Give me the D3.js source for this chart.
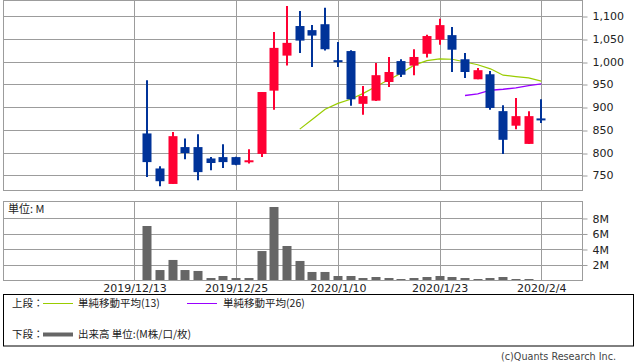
<!DOCTYPE html>
<html><head><meta charset="utf-8">
<script src="https://cdn.jsdelivr.net/npm/d3@7"></script>
<style>
html,body{margin:0;padding:0;background:#fff;}
svg{display:block;font-family:"DejaVu Sans","Noto Sans CJK JP",sans-serif;}
</style></head>
<body><svg id="c" width="638" height="362"></svg>
<script>
// ---- data ----
const dates = ["2019/12/16","2019/12/17","2019/12/18","2019/12/19","2019/12/20","2019/12/23","2019/12/24","2019/12/25","2019/12/26","2019/12/27","2019/12/30",
"2020/1/6","2020/1/7","2020/1/8","2020/1/9","2020/1/10","2020/1/14","2020/1/15","2020/1/16","2020/1/17","2020/1/20","2020/1/21","2020/1/22","2020/1/23","2020/1/24",
"2020/1/27","2020/1/28","2020/1/29","2020/1/30","2020/1/31","2020/2/3","2020/2/4"];
const open  = [842,765,731,812,812,787,790,790,779,797,936,1013,1078,1069,1082,1003,1023,907,914,955,1001,991,1017,1048,1058,1005,961,972,891,859,819,875];
const high  = [959,770,845,831,840,790,818,791,807,933,1065,1122,1111,1080,1118,1043,1025,946,997,1010,1005,1027,1059,1094,1076,1019,986,979,904,920,891,917];
const low   = [746,726,731,785,739,761,766,772,776,790,894,991,1019,988,1024,988,903,883,913,944,966,970,1009,1037,977,964,961,894,797,851,819,865];
const close = [779,737,836,799,757,777,779,773,783,933,1030,1041,1046,1057,1027,1000,917,924,970,977,971,1010,1056,1080,1026,977,981,898,828,880,880,875];
const volume = [7.03,1.35,2.65,1.35,1.23,0.32,0.58,0.32,0.32,3.8,9.48,4.45,2.52,1.1,1.1,0.58,0.58,0.32,0.45,0.32,0.19,0.32,0.45,0.58,0.45,0.32,0.19,0.32,0.45,0.19,0.19,0.05];
const ma13 = [851.5,873,895,908,917,930,945,960,975,992,1002,1006,1005,999,993,984,970,967,964,957];   // from candle 13
const ma26 = [925.5,929,937,939,942,947,951];                                                        // from candle 26
const tickLabels = ["2019/12/13","2019/12/25","2020/1/10","2020/1/23","2020/2/4"];
const tickSlots = [0,8,16,24,32];
const priceTicks = [750,800,850,900,950,1000,1050,1100];
const volTicks = [2,4,6,8];

// ---- setup ----
const svg = d3.select("#c");
const GRID = "#9c9c9c", RED = "#ff0033", BLUE = "#003399", GREEN = "#99cc00", PURPLE = "#9900ff", VOL = "#666666";
const L = 3.5, R = 582.5;
const x = d3.scaleLinear().domain([-10.3, 35.24]).range([L, R]);
const slot = i => i + 1; // candle i sits in slot i+1 (slot 0 = 2019/12/13)
const y = d3.scaleLinear().domain([716.6, 1134.1]).range([190.5, 0.5]);
const yv = d3.scaleLinear().domain([0, 10.19]).range([280.5, 201.5]);
const px = v => Math.round(v) + 0.5;

// ---- price panel ----
const pg = svg.append("g");
pg.selectAll("line.h").data(priceTicks).join("line")
  .attr("x1", L).attr("x2", R).attr("y1", d => px(y(d))).attr("y2", d => px(y(d)))
  .attr("stroke", GRID).attr("stroke-width", 1);
pg.selectAll("line.v").data(tickSlots).join("line")
  .attr("x1", d => px(x(d))).attr("x2", d => px(x(d))).attr("y1", y.range()[1]).attr("y2", y.range()[0])
  .attr("stroke", GRID);
pg.append("rect").attr("x", L).attr("y", 0.5).attr("width", R - L).attr("height", 190)
  .attr("fill", "none").attr("stroke", GRID);

const yAxis = d3.axisRight(y).tickValues(priceTicks).tickFormat(d3.format(",")).tickSize(5).tickPadding(5);
const ga = svg.append("g").attr("transform", `translate(${R},0)`).call(yAxis);
ga.select(".domain").remove();
ga.selectAll("line").attr("stroke", GRID).attr("transform", d => `translate(0,${px(y(d)) - y(d)})`);
ga.selectAll("text").attr("font-size", 11).attr("fill", "#222").attr("font-family", "DejaVu Sans");

// MA lines
const ma13Data = ma13.map((v, k) => ({s: slot(12 + k), v}));
const ma26Data = ma26.map((v, k) => ({s: slot(25 + k), v}));
const line = d3.line().x(d => x(d.s)).y(d => y(d.v));
svg.append("path").datum(ma13Data).attr("d", line).attr("fill", "none").attr("stroke", GREEN).attr("stroke-width", 1.2);
svg.append("path").datum(ma26Data).attr("d", line).attr("fill", "none").attr("stroke", PURPLE).attr("stroke-width", 1.4);

// candles
const candles = dates.map((d, i) => ({i, o: open[i], h: high[i], l: low[i], c: close[i]}));
const cg = svg.append("g").selectAll("g").data(candles).join("g");
const col = d => d.c > d.o ? RED : BLUE;
cg.append("line")
  .attr("x1", d => Math.round(x(slot(d.i)))).attr("x2", d => Math.round(x(slot(d.i))))
  .attr("y1", d => y(d.h)).attr("y2", d => y(d.l))
  .attr("stroke", col).attr("stroke-width", 2);
cg.append("rect")
  .attr("x", d => Math.round(x(slot(d.i))) - 4.5).attr("width", 9)
  .attr("y", d => y(Math.max(d.o, d.c)))
  .attr("height", d => Math.max(2, Math.abs(y(d.o) - y(d.c))))
  .attr("fill", col);

// ---- volume panel ----
const vg = svg.append("g");
vg.selectAll("line.h").data(volTicks).join("line")
  .attr("x1", L).attr("x2", R).attr("y1", d => px(yv(d))).attr("y2", d => px(yv(d)))
  .attr("stroke", GRID);
vg.selectAll("line.v").data(tickSlots).join("line")
  .attr("x1", d => px(x(d))).attr("x2", d => px(x(d))).attr("y1", yv.range()[1]).attr("y2", yv.range()[0])
  .attr("stroke", GRID);
vg.selectAll("rect.b").data(volume).join("rect")
  .attr("x", (d, i) => Math.round(x(slot(i))) - 4.5).attr("width", 9)
  .attr("y", d => yv(d)).attr("height", d => yv(0) - yv(d))
  .attr("fill", VOL);
vg.append("rect").attr("x", L).attr("y", 201.5).attr("width", R - L).attr("height", 79)
  .attr("fill", "none").attr("stroke", GRID);
svg.append("text").attr("x", 8).attr("y", 213).attr("font-size", 11).attr("fill", "#222")
  .attr("font-family", "Noto Sans CJK JP").text("単位: M");

const vAxis = d3.axisRight(yv).tickValues(volTicks).tickFormat(d => d + "M").tickSize(5).tickPadding(5);
const gv = svg.append("g").attr("transform", `translate(${R},0)`).call(vAxis);
gv.select(".domain").remove();
gv.selectAll("line").attr("stroke", GRID);
gv.selectAll("text").attr("font-size", 11).attr("fill", "#222").attr("font-family", "DejaVu Sans");

// x labels
const xAxis = d3.axisBottom(x).tickValues(tickSlots).tickFormat((d, k) => tickLabels[k]).tickSize(0).tickPadding(3);
const gx = svg.append("g").attr("transform", "translate(0,281)").call(xAxis);
gx.select(".domain").remove();
gx.selectAll("text").attr("font-size", 11).attr("fill", "#222").attr("font-family", "DejaVu Sans");

// ---- legend ----
const lg = svg.append("g").attr("font-size", 10.5).attr("fill", "#222").attr("font-family", "Noto Sans CJK JP");
lg.append("rect").attr("x", 3.5).attr("y", 294.5).attr("width", 630).attr("height", 51.5)
  .attr("fill", "none").attr("stroke", "#000");
lg.append("text").attr("x", 12).attr("y", 307).text("上段：");
lg.append("line").attr("x1", 43).attr("x2", 73).attr("y1", 303.5).attr("y2", 303.5).attr("stroke", GREEN);
lg.append("text").attr("x", 78).attr("y", 307).text("単純移動平均(13)");
lg.append("line").attr("x1", 187).attr("x2", 217).attr("y1", 303.5).attr("y2", 303.5).attr("stroke", PURPLE);
lg.append("text").attr("x", 223).attr("y", 307).text("単純移動平均(26)");
lg.append("text").attr("x", 12).attr("y", 338).text("下段：");
lg.append("line").attr("x1", 43).attr("x2", 73).attr("y1", 334.5).attr("y2", 334.5).attr("stroke", VOL).attr("stroke-width", 4);
lg.append("text").attr("x", 78).attr("y", 338).text("出来高 単位:(M株/口/枚)");

svg.append("text").attr("x", 501).attr("y", 360)
  .attr("font-size", 10.5).attr("fill", "#444").attr("font-family", "DejaVu Sans")
  .attr("textLength", 115).attr("lengthAdjust", "spacingAndGlyphs").text("(c)Quants Research Inc.");
</script></body></html>
